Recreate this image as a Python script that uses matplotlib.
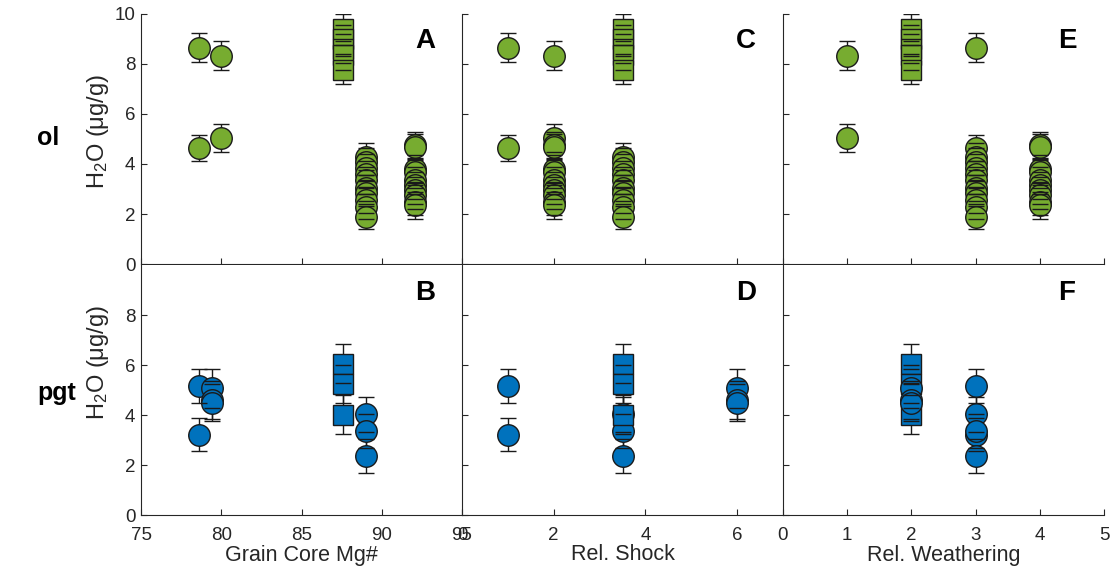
import numpy as np
import matplotlib
matplotlib.use('Agg')
import matplotlib.pyplot as plt

plt.rcParams['font.family'] = ['Liberation Sans', 'DejaVu Sans']
plt.rcParams['mathtext.default'] = 'regular'

# per-sample properties: grain core Mg#, relative shock, relative weathering
mg_number = [78.6, 80.0, 87.6, 89.0, 92.1, 79.4]
rel_shock = [1, 2, 3.5, 3.5, 2, 6]
rel_weathering = [3, 1, 2, 3, 4, 2]
sample_marker = ['o', 'o', 's', 'o', 'o', 'o']
draw_order = [0, 1, 3, 4, 2, 5]

# olivine H2O (ug/g): sample index, value, 1 sigma
ol_sample = [0, 0,
             1, 1,
             2, 2, 2, 2, 2,
             3, 3, 3, 3, 3, 3, 3, 3, 3, 3,
             4, 4, 4, 4, 4, 4, 4, 4, 4, 4]
ol_h2o = [8.65, 4.65,
          8.33, 5.03,
          9.38, 8.98, 8.62, 8.35, 7.76,
          4.30, 4.10, 3.85, 3.60, 3.35, 3.05, 2.85, 2.55, 2.30, 1.90,
          4.75, 4.68, 3.80, 3.70, 3.35, 3.15, 2.95, 2.75, 2.50, 2.35]
ol_err = [0.57, 0.52,
          0.57, 0.56,
          0.62, 0.60, 0.58, 0.57, 0.55,
          0.55, 0.55, 0.54, 0.54, 0.53, 0.53, 0.52, 0.52, 0.51, 0.50,
          0.55, 0.52, 0.55, 0.55, 0.55, 0.55, 0.55, 0.55, 0.55, 0.55]

# pigeonite H2O (ug/g)
pgt_sample = [0, 0,
              3, 3, 3,
              2, 2, 2,
              5, 5, 5]
pgt_h2o = [5.15, 3.22,
           4.03, 3.38, 2.36,
           6.06, 5.25, 4.02,
           5.08, 4.62, 4.50]
pgt_err = [0.68, 0.67,
           0.69, 0.68, 0.67,
           0.78, 0.75, 0.77,
           0.78, 0.76, 0.74]

ol_color = '#77AC30'
pgt_color = '#0072BD'
edge = '#1a1a1a'
axis_color = '#262626'

x_columns = [mg_number, rel_shock, rel_weathering]
x_limits = [(75, 95), (0, 7), (0, 5)]
x_ticks = [[75, 80, 85, 90, 95], [0, 2, 4, 6], [0, 1, 2, 3, 4, 5]]
x_labels = ['Grain Core Mg#', 'Rel. Shock', 'Rel. Weathering']
letters = [['A', 'C', 'E'], ['B', 'D', 'F']]
marker_size = {'o': 15.5, 's': 14.5}


def plot_panel(ax, xvals, samp, h2o, err, color):
    samp = np.asarray(samp)
    h2o = np.asarray(h2o)
    err = np.asarray(err)
    for k in draw_order:
        sel = samp == k
        if not sel.any():
            continue
        m = sample_marker[k]
        x = np.full(sel.sum(), xvals[k], dtype=float)
        ax.errorbar(x, h2o[sel], yerr=err[sel], fmt=m, ms=marker_size[m],
                    mfc=color, mec=edge, mew=1.0, ecolor=edge,
                    elinewidth=1.0, capsize=0, zorder=2)
        # caps sit on top of every marker
        caps = ax.errorbar(x, h2o[sel], yerr=err[sel], fmt='none', ecolor=edge,
                           capsize=6, capthick=1.0, zorder=4)
        caps[2][0].set_visible(False)


W, H = 1112, 571
fig = plt.figure(figsize=(W / 100, H / 100), dpi=100)
lefts = [141, 462, 783]
tops = [14, 265]
pw, ph = 321, 250
ylabel_y = [0.53, 0.61]

datasets = [(ol_sample, ol_h2o, ol_err, ol_color),
            (pgt_sample, pgt_h2o, pgt_err, pgt_color)]

for r in range(2):
    for c in range(3):
        ax = fig.add_axes([lefts[c] / W, 1 - (tops[r] + ph) / H, pw / W, ph / H])
        samp, h2o, err, color = datasets[r]
        plot_panel(ax, x_columns[c], samp, h2o, err, color)
        ax.set_xlim(*x_limits[c])
        ax.set_xticks(x_ticks[c])
        ax.set_ylim(0, 10)
        ax.set_yticks([0, 2, 4, 6, 8, 10] if r == 0 else [0, 2, 4, 6, 8])
        for s in ['top', 'right']:
            ax.spines[s].set_visible(False)
        for s in ['left', 'bottom']:
            ax.spines[s].set_color(axis_color)
            ax.spines[s].set_linewidth(0.8)
        ax.tick_params(direction='in', length=4, width=0.8, colors=axis_color,
                       labelsize=13.5, labelcolor=axis_color)
        ax.tick_params(axis='x', pad=9)
        ax.tick_params(axis='y', pad=4)
        if r == 0:
            ax.tick_params(labelbottom=False)
        else:
            ax.set_xlabel(x_labels[c], fontsize=15.5, color=axis_color, labelpad=0)
        if c > 0:
            ax.tick_params(labelleft=False)
        else:
            ax.set_ylabel('H$_2$O (μg/g)', fontsize=17, color=axis_color)
            ax.yaxis.set_label_coords(-0.095, ylabel_y[r])
        ax.text(0.885, 0.89, letters[r][c], transform=ax.transAxes,
                fontsize=20, fontweight='bold', ha='center', va='center')

fig.text(37 / W, 1 - 145 / H, 'ol', fontsize=18, fontweight='bold', va='baseline')
fig.text(37 / W, 1 - 400 / H, 'pgt', fontsize=18, fontweight='bold', va='baseline')

fig.savefig('out.png', dpi=100)
